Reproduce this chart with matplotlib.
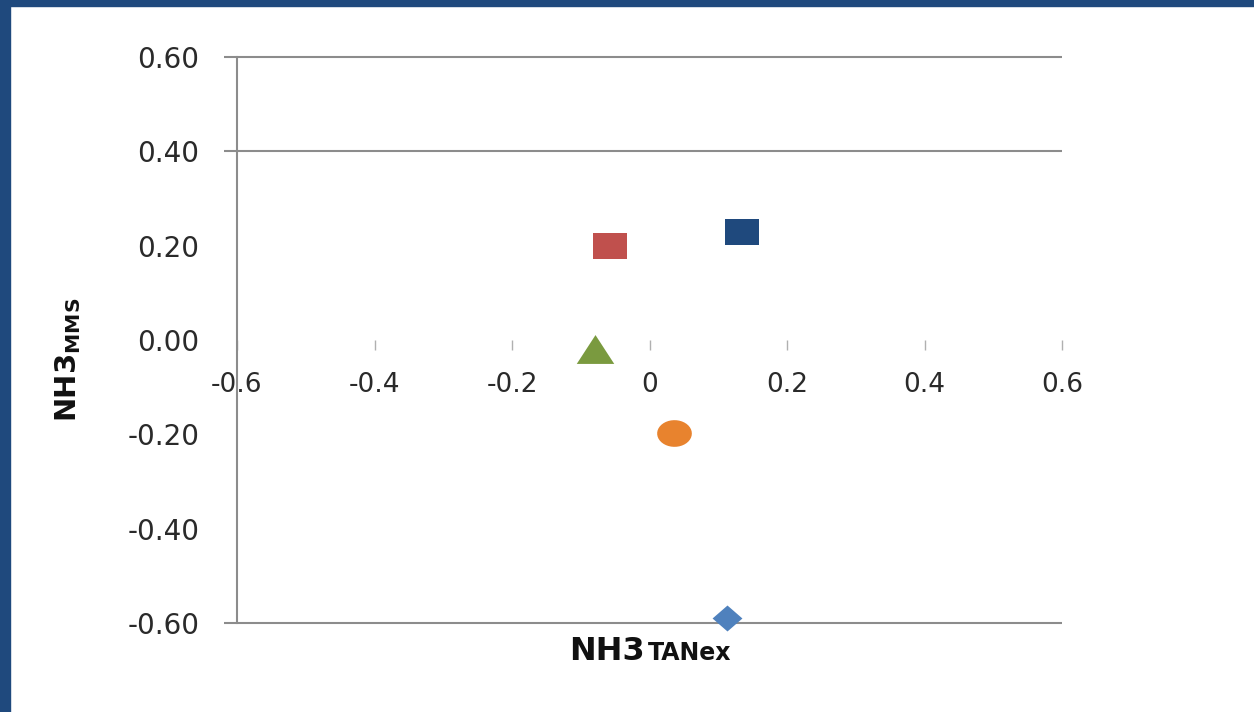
import numpy as np
import matplotlib
matplotlib.use('Agg')
import matplotlib.pyplot as plt
from matplotlib.patches import Rectangle
from matplotlib.offsetbox import TextArea, HPacker, AnnotationBbox

plt.rcParams['axes.unicode_minus'] = False

# data
x_vals = [0.113, -0.057, -0.08, 0.135, 0.035]
y_vals = [-0.59, 0.20, -0.02, 0.23, -0.197]
point_colors = ['#4F81BD', '#C0504D', '#7A9A3F', '#1F497D', '#E8832E']
x_ticks = [-0.6, -0.4, -0.2, 0, 0.2, 0.4, 0.6]
x_tick_labels = ['-0.6', '-0.4', '-0.2', '0', '0.2', '0.4', '0.6']
y_ticks = [-0.6, -0.4, -0.2, 0.0, 0.2, 0.4, 0.6]
y_tick_labels = ['-0.60', '-0.40', '-0.20', '0.00', '0.20', '0.40', '0.60']
grid_y = [0.6, 0.4, -0.6]

# marker shapes (Excel-like, slightly wide)
t = np.linspace(0, 2 * np.pi, 40)
ellipse = list(zip(1.3 * np.cos(t), np.sin(t)))
rect = [(-1.35, -1), (1.35, -1), (1.35, 1), (-1.35, 1)]
tri = [(0, 1), (-1.3, -1), (1.3, -1)]
diamond = [(0, 1), (1.15, 0), (0, -1), (-1.15, 0)]
shapes = [(diamond, 21.5), (rect, 25), (tri, 27), (rect, 25), (ellipse, 25)]

fig = plt.figure(figsize=(12.54, 7.12), dpi=100)
ax = fig.add_axes([237 / 1254, 1 - 623 / 712, (1062 - 237) / 1254, (623 - 57) / 712])

fig.add_artist(Rectangle((0, 1 - 6 / 712), 1, 6 / 712, transform=fig.transFigure,
                         color='#1F497D', zorder=0))
fig.add_artist(Rectangle((0, 0), 10 / 1254, 1, transform=fig.transFigure,
                         color='#1F497D', zorder=0))

for xv, yv, c, (m, s) in zip(x_vals, y_vals, point_colors, shapes):
    ax.plot([xv], [yv], linestyle='none', marker=m, markersize=s,
            color=c, markeredgewidth=0, zorder=3, clip_on=False)

ax.hlines(grid_y, -13 / 825, 1, transform=ax.get_yaxis_transform(),
          color='#8c8c8c', linewidth=1.5, clip_on=False)

ax.set_xlim(-0.6, 0.6)
ax.set_ylim(-0.6, 0.6)
ax.spines['top'].set_visible(False)
ax.spines['right'].set_visible(False)
ax.spines['left'].set_position(('data', -0.6))
ax.spines['left'].set_color('#8c8c8c')
ax.spines['left'].set_linewidth(1.5)
ax.spines['bottom'].set_position(('data', 0))
ax.spines['bottom'].set_linewidth(0)

ax.set_xticks(x_ticks)
ax.set_xticklabels(x_tick_labels)
ax.set_yticks(y_ticks)
ax.set_yticklabels(y_tick_labels)
ax.tick_params(axis='x', direction='out', length=7, width=1, color='#b0b0b0',
               pad=16, labelsize=19, labelcolor='#2a2a2a')
ax.tick_params(axis='y', length=0, pad=27, labelsize=20, labelcolor='#2a2a2a')

fig.text(68 / 1254, 1 - 360 / 712, r'$\mathbf{NH3}_{\mathbf{MMS}}$', rotation=90,
         fontsize=21, ha='center', va='center', color='#111111')

xlab = HPacker(children=[TextArea('NH3', textprops=dict(size=23, weight='bold', color='#111111')),
                         TextArea('TANex', textprops=dict(size=17, weight='bold', color='#111111'))],
               align='baseline', pad=0, sep=2)
ab = AnnotationBbox(xlab, (650 / 1254, 1 - 651 / 712), xycoords='figure fraction',
                    frameon=False, box_alignment=(0.5, 0.5))
fig.add_artist(ab)

fig.savefig('out.png', dpi=100, facecolor='white')
